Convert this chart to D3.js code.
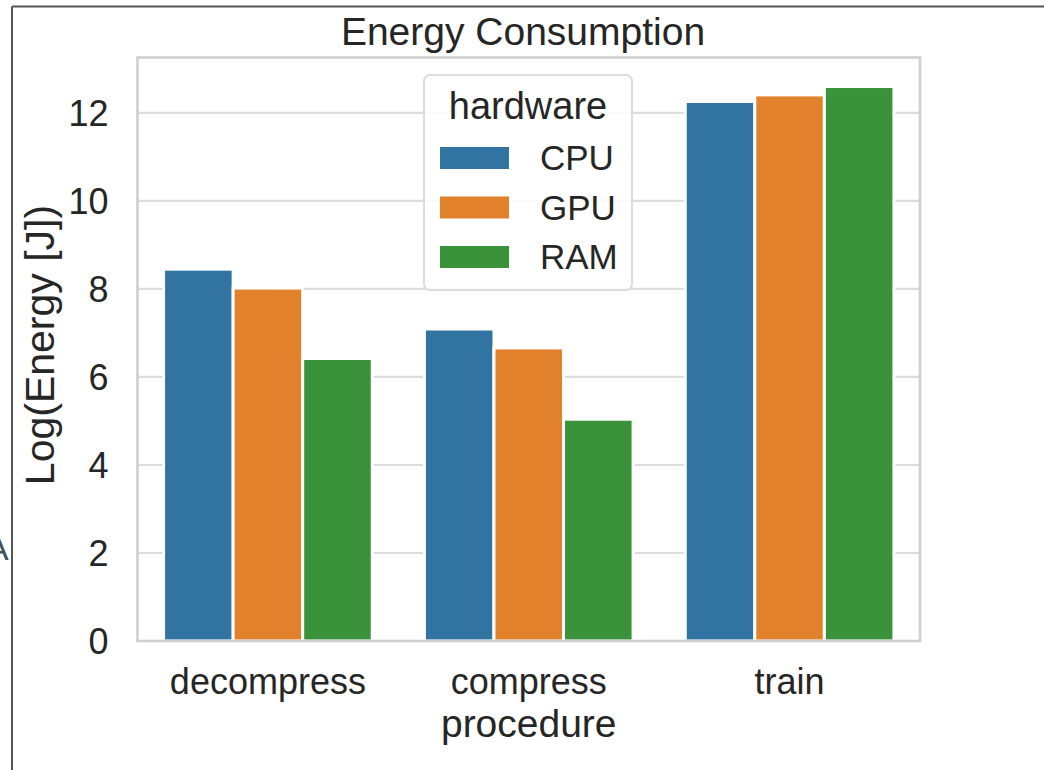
<!DOCTYPE html>
<html>
<head>
<meta charset="utf-8">
<script src="https://cdn.jsdelivr.net/npm/d3@7"></script>
<style>
  html, body { margin: 0; padding: 0; background: #fff; }
  svg { display: block; font-family: "Liberation Sans", Arial, sans-serif; }
</style>
</head>
<body>
<svg id="chart" width="1044" height="770"></svg>
<script>
const categories = ["decompress", "compress", "train"];
const hardware = ["CPU", "GPU", "RAM"];
const cpuValues = [8.45, 7.09, 12.26];
const gpuValues = [8.02, 6.66, 12.41];
const ramValues = [6.42, 5.04, 12.6];
const yTicks = [0, 2, 4, 6, 8, 10, 12];
const colors = ["#3274a1", "#e1812c", "#3a923a"];
const titleText = "Energy Consumption";
const xLabel = "procedure";
const yLabel = "Log(Energy [J])";
const legendTitle = "hardware";

const seriesValues = [cpuValues, gpuValues, ramValues];
const rows = [];
categories.forEach((c, i) => hardware.forEach((h, j) => rows.push({cat: c, hw: h, value: seriesValues[j][i]})));

const svg = d3.select("#chart");
const pLeft = 137.5, pRight = 920, pTop = 57.5, pBottom = 641;

// outer frame lines of the screenshot
svg.append("line").attr("x1", 12).attr("x2", 1044).attr("y1", 6.5).attr("y2", 6.5)
  .attr("stroke", "#555").attr("stroke-width", 2);
svg.append("line").attr("x1", 12).attr("x2", 12).attr("y1", 6.5).attr("y2", 770)
  .attr("stroke", "#555").attr("stroke-width", 2);
svg.append("text").attr("x", -14).attr("y", 560).attr("font-size", 34)
  .attr("fill", "#3e5360").text("A");

const x = d3.scaleBand().domain(categories).range([pLeft, pRight]).paddingInner(0).paddingOuter(0);
const inner = d3.scaleBand().domain(hardware).range([0, x.bandwidth() * 0.8]);
const y = d3.scaleLinear().domain([0, 13.26]).range([pBottom, pTop]);
const color = d3.scaleOrdinal().domain(hardware).range(colors);

// gridlines
svg.append("g").selectAll("line").data(yTicks).join("line")
  .attr("x1", pLeft).attr("x2", pRight)
  .attr("y1", d => y(d)).attr("y2", d => y(d))
  .attr("stroke", "#dcdcdc").attr("stroke-width", 2.2);

// bars
svg.append("g").selectAll("rect").data(rows).join("rect")
  .attr("x", d => x(d.cat) + x.bandwidth() * 0.1 + inner(d.hw))
  .attr("width", inner.bandwidth())
  .attr("y", d => y(d.value))
  .attr("height", d => y(0) - y(d.value))
  .attr("fill", d => color(d.hw))
  .attr("stroke", "#fff").attr("stroke-width", 3);

// spines
svg.append("rect").attr("x", pLeft).attr("y", pTop).attr("width", pRight - pLeft).attr("height", pBottom - pTop)
  .attr("fill", "none").attr("stroke", "#cfcfcf").attr("stroke-width", 2.6);

// y axis
const yAxis = d3.axisLeft(y).tickValues(yTicks).tickSize(0).tickPadding(29);
const gy = svg.append("g").attr("transform", `translate(${pLeft},0)`).call(yAxis);
gy.select(".domain").remove();
gy.selectAll("text").attr("font-size", 36).attr("fill", "#262626")
  .attr("font-family", "Liberation Sans, Arial, sans-serif").attr("dy", "0.36em");

// x axis
const xAxis = d3.axisBottom(x).tickSize(0).tickPadding(27);
const gx = svg.append("g").attr("transform", `translate(0,${pBottom})`).call(xAxis);
gx.select(".domain").remove();
gx.selectAll("text").attr("font-size", 36).attr("fill", "#262626")
  .attr("font-family", "Liberation Sans, Arial, sans-serif").attr("dy", "0.71em");

// axis labels
svg.append("text").attr("x", (pLeft + pRight) / 2).attr("y", 737).attr("text-anchor", "middle")
  .attr("font-size", 39).attr("fill", "#262626").text(xLabel);
svg.append("text").attr("transform", `translate(54,345) rotate(-90)`)
  .attr("text-anchor", "middle").attr("font-size", 41).attr("fill", "#262626").text(yLabel);

// title
svg.append("text").attr("x", 523).attr("y", 45).attr("text-anchor", "middle")
  .attr("font-size", 39).attr("fill", "#262626").text(titleText);

// legend
const lg = svg.append("g");
lg.append("rect").attr("x", 424).attr("y", 75).attr("width", 208).attr("height", 215).attr("rx", 6)
  .attr("fill", "#fff").attr("fill-opacity", 0.85).attr("stroke", "#dcdcdc").attr("stroke-width", 2);
lg.append("text").attr("x", 528).attr("y", 119).attr("text-anchor", "middle")
  .attr("font-size", 38).attr("fill", "#262626").text(legendTitle);
const items = lg.selectAll("g.item").data(hardware).join("g").attr("class", "item")
  .attr("transform", (d, i) => `translate(0,${158 + i * 49.5})`);
items.append("rect").attr("x", 440).attr("y", -11).attr("width", 69).attr("height", 22)
  .attr("fill", d => color(d));
items.append("text").attr("x", 540).attr("y", 12).attr("font-size", 35).attr("fill", "#262626").text(d => d);
</script>
</body>
</html>
